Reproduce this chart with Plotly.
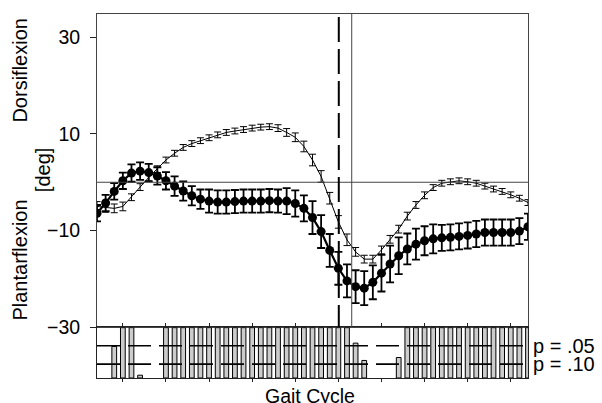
import plotly.graph_objects as go

# ---------------- data ----------------
gait_pct = list(range(0, 101, 2))

# filled-circle series (thick line)
series_a_mean = [-6.4, -4.3, -1.9, 0.3, 1.9, 2.3, 2.0, 1.3, 0.3, -0.8,
                 -1.8, -2.8, -3.5, -3.9, -4.1, -4.1, -4.0, -3.9, -3.9, -3.9,
                 -3.8, -3.9, -3.9, -4.4, -5.4, -7.3, -10.2, -14.1, -17.8, -20.4,
                 -21.6, -21.9, -20.7, -18.8, -16.9, -15.2, -13.8, -12.8, -12.1, -11.7,
                 -11.5, -11.4, -11.2, -11.0, -10.7, -10.4, -10.4, -10.4, -10.4, -10.1,
                 -9.2]
series_a_err = [1.7, 1.7, 1.7, 1.7, 1.8, 1.8, 1.8, 1.8, 1.8, 2.0,
                2.0, 2.0, 2.0, 2.4, 2.4, 2.4, 2.4, 2.4, 2.4, 2.4,
                2.4, 2.4, 2.7, 2.7, 2.7, 3.4, 3.4, 3.4, 3.4, 3.4,
                3.4, 3.5, 3.5, 3.8, 3.8, 3.8, 3.2, 3.2, 3.0, 3.0,
                2.7, 2.7, 2.7, 2.7, 2.7, 2.7, 2.7, 2.7, 2.7, 2.7,
                2.7]

# thin-line series
series_b_mean = [-5.0, -5.2, -5.4, -5.0, -3.1, -1.0, 1.0, 2.7, 4.6, 6.0,
                 7.2, 8.0, 8.6, 9.2, 9.8, 10.3, 10.6, 10.9, 11.2, 11.4,
                 11.5, 11.2, 10.3, 9.3, 7.4, 4.6, 1.2, -3.3, -8.2, -11.9,
                 -14.4, -15.9, -15.9, -14.0, -11.8, -9.7, -7.0, -4.7, -2.7, -1.1,
                 -0.2, 0.1, 0.3, 0.1, -0.2, -0.8, -1.4, -1.9, -2.6, -3.3,
                 -4.2]
series_b_err = [1.0, 1.0, 0.9, 0.9, 0.7, 0.7, 0.7, 0.7, 0.6, 0.6,
                0.6, 0.6, 0.6, 0.6, 0.6, 0.6, 0.6, 0.6, 0.6, 0.6,
                0.6, 0.7, 0.8, 0.9, 1.1, 1.2, 1.2, 1.2, 1.3, 1.2,
                0.9, 0.8, 0.8, 0.8, 0.8, 0.8, 0.8, 0.7, 0.7, 0.6,
                0.6, 0.6, 0.6, 0.6, 0.6, 0.6, 0.6, 0.6, 0.6, 0.6,
                0.6]

# p-value per gait point (bottom panel)
p_values = [0.5, 0.5, 0.052, 0.001, 0.001, 0.13, 0.5, 0.5, 0.001, 0.001,
            0.001, 0.001, 0.001, 0.001, 0.001, 0.001, 0.001, 0.001, 0.001, 0.001,
            0.001, 0.001, 0.001, 0.001, 0.001, 0.001, 0.001, 0.001, 0.001, 0.001,
            0.043, 0.09, 0.5, 0.5, 0.5, 0.082, 0.001, 0.001, 0.001, 0.001,
            0.001, 0.001, 0.001, 0.001, 0.001, 0.001, 0.001, 0.001, 0.001, 0.001,
            0.001]

y_ticks = [-30, -10, 10, 30]
bar_ticks = [6, 16, 26, 36, 46, 56, 66, 76, 86, 96]
sig_levels = [0.05, 0.10]
sig_labels = ["p = .05", "p = .10"]
toe_off_a = 56.1
toe_off_b = 59.1
P_FLOOR = 0.1376

FONT = "Liberation Sans, Arial, sans-serif"
FRAME = "#444444"

fig = go.Figure()

fig.add_trace(go.Scatter(
    x=gait_pct, y=series_b_mean, mode="lines",
    line=dict(color="black", width=1),
    error_y=dict(type="data", array=series_b_err, color="black", thickness=1, width=3.5),
    xaxis="x", yaxis="y", hoverinfo="skip"))

fig.add_trace(go.Scatter(
    x=gait_pct, y=series_a_mean, mode="lines+markers",
    line=dict(color="black", width=2.2),
    marker=dict(color="black", size=9),
    error_y=dict(type="data", array=series_a_err, color="black", thickness=1.8, width=4),
    xaxis="x", yaxis="y", hoverinfo="skip"))

bar_len = [(p - P_FLOOR) if p < P_FLOOR else None for p in p_values]
fig.add_trace(go.Bar(
    x=gait_pct, y=bar_len, base=P_FLOOR, width=1.1,
    marker=dict(color="#cccccc", line=dict(color="black", width=1)),
    xaxis="x2", yaxis="y2", hoverinfo="skip"))

shapes = []
shapes.append(dict(type="line", xref="x", yref="y", x0=0, x1=100, y0=0, y1=0,
                   line=dict(color=FRAME, width=1)))
shapes.append(dict(type="line", xref="x", yref="y", x0=toe_off_b, x1=toe_off_b,
                   y0=-30, y1=34.8, line=dict(color=FRAME, width=1)))
shapes.append(dict(type="line", xref="x", yref="y", x0=toe_off_a, x1=toe_off_a,
                   y0=34.8, y1=-30, line=dict(color="black", width=2, dash="0px,3px,25px,4px")))
for lv in sig_levels:
    shapes.append(dict(type="line", xref="x2", yref="y2", x0=0, x1=100, y0=lv, y1=lv,
                       line=dict(color="black", width=1.6, dash="23px,8px")))

annotations = []
for lv, lab in zip(sig_levels, sig_labels):
    annotations.append(dict(text=lab, xref="paper", x=1, xshift=3, xanchor="left",
                            yref="y2", y=lv, yanchor="middle", showarrow=False,
                            font=dict(family=FONT, size=20, color="black")))
annotations.append(dict(text="Dorsiflexion", xref="paper", x=0, xshift=-77, xanchor="center",
                        yref="y", y=23.1, yanchor="middle", textangle=-90, showarrow=False,
                        font=dict(family=FONT, size=20, color="black")))
annotations.append(dict(text="[deg]", xref="paper", x=0, xshift=-54, xanchor="center",
                        yref="y", y=2.5, yanchor="middle", textangle=-90, showarrow=False,
                        font=dict(family=FONT, size=20, color="black")))
annotations.append(dict(text="Plantarflexion", xref="paper", x=0, xshift=-77, xanchor="center",
                        yref="y", y=-16.2, yanchor="middle", textangle=-90, showarrow=False,
                        font=dict(family=FONT, size=20, color="black")))
annotations.append(dict(text="Gait Cycle", xref="paper", x=0.5, xshift=-3, xanchor="center",
                        yref="paper", y=0, yshift=-5, yanchor="top", showarrow=False,
                        font=dict(family=FONT, size=19.5, color="black")))

DOM_SPLIT = (378 - 327.3) / 364

fig.update_layout(
    template="none",
    width=602, height=403,
    margin=dict(l=97, r=74, t=14, b=25, autoexpand=False),
    paper_bgcolor="white", plot_bgcolor="white",
    showlegend=False, bargap=0,
    font=dict(family=FONT, size=19.5, color="black"),
    xaxis=dict(domain=[0, 1], range=[0, 100], anchor="y", showline=True, mirror=True,
               linecolor=FRAME, linewidth=1, showticklabels=False, ticks="",
               showgrid=False, zeroline=False, automargin=False),
    yaxis=dict(domain=[DOM_SPLIT, 1], range=[-30, 34.8], anchor="x", tickvals=y_ticks,
               ticks="outside", ticklen=6, tickcolor="#222222", tickwidth=1,
               ticklabelstandoff=6, automargin=False,
               showline=True, linecolor=FRAME, linewidth=1, mirror=True,
               showgrid=False, zeroline=False),
    xaxis2=dict(domain=[0, 1], range=[0, 100], anchor="y2", showline=True, mirror="ticks",
                ticks="outside", ticklen=3, tickvals=bar_ticks, tickcolor="#222222",
                showticklabels=False, linecolor="#222222", linewidth=1,
                showgrid=False, zeroline=False, automargin=False),
    yaxis2=dict(domain=[0, DOM_SPLIT], range=[P_FLOOR, 0], anchor="x2", showline=True,
                mirror=True, linecolor="#222222", linewidth=1, showticklabels=False,
                ticks="", showgrid=False, zeroline=False, automargin=False),
    shapes=shapes, annotations=annotations,
)

fig.write_html("out.html",
               config={"displayModeBar": False, "staticPlot": True},
               post_script="document.body.style.margin='0px';document.body.style.overflow='hidden';")
